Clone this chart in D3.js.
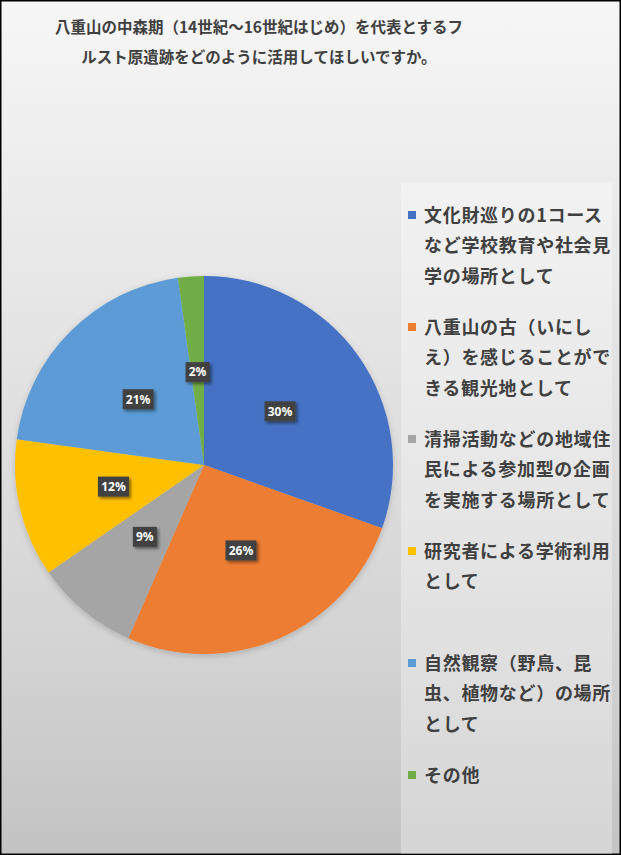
<!DOCTYPE html>
<html>
<head>
<meta charset="utf-8">
<script src="https://cdn.jsdelivr.net/npm/d3@7"></script>
<style>
  html, body { margin: 0; padding: 0; background: #fff; }
  svg { display: block; font-family: "Noto Sans CJK JP", "Noto Sans", sans-serif; }
</style>
</head>
<body>
<div id="chart"></div>
<script>
var svgWidth = 621;
var svgHeight = 855;

// chart data
var titleLines = [
    "八重山の中森期（14世紀〜16世紀はじめ）を代表とするフ",
    "ルスト原遺跡をどのように活用してほしいですか。"
];
var categories = [
    "文化財巡りの1コース\nなど学校教育や社会見\n学の場所として",
    "八重山の古（いにし\nえ）を感じることがで\nきる観光地として",
    "清掃活動などの地域住\n民による参加型の企画\nを実施する場所として",
    "研究者による学術利用\nとして",
    "自然観察（野鳥、昆\n虫、植物など）の場所\nとして",
    "その他"
];
var shares = [30.4, 26.1, 8.8, 11.8, 20.6, 2.2];
var colors = ["#4472C4", "#ED7D31", "#A5A5A5", "#FFC000", "#5B9BD5", "#70AD47"];

var pieCenter = { x: 204, y: 465 };
var radius = 189;

var svg = d3.select("#chart")
    .append("svg")
    .attr("width", svgWidth)
    .attr("height", svgHeight);

var defs = svg.append("defs");

// background gradient like the office chart area
var bg = defs.append("linearGradient")
    .attr("id", "bgGrad")
    .attr("x1", 0).attr("y1", 0)
    .attr("x2", 0).attr("y2", 1);
bg.append("stop").attr("offset", "0%").attr("stop-color", "#f6f6f6");
bg.append("stop").attr("offset", "75%").attr("stop-color", "#d4d4d4");
bg.append("stop").attr("offset", "100%").attr("stop-color", "#c3c3c3");

// dotted texture for the data label boxes
var pat = defs.append("pattern")
    .attr("id", "dots")
    .attr("width", 3).attr("height", 3)
    .attr("patternUnits", "userSpaceOnUse");
pat.append("rect").attr("width", 3).attr("height", 3).attr("fill", "#3f3f3f");
pat.append("rect").attr("width", 1).attr("height", 1).attr("fill", "#4d4d4d");

var shadow = defs.append("filter")
    .attr("id", "lblShadow")
    .attr("x", "-30%").attr("y", "-30%")
    .attr("width", "170%").attr("height", "180%");
shadow.append("feDropShadow")
    .attr("dx", 2).attr("dy", 2)
    .attr("stdDeviation", 1.5)
    .attr("flood-color", "#000")
    .attr("flood-opacity", 0.45);

var pieShadow = defs.append("filter")
    .attr("id", "pieShadow")
    .attr("x", "-10%").attr("y", "-10%")
    .attr("width", "120%").attr("height", "120%");
pieShadow.append("feDropShadow")
    .attr("dx", 0).attr("dy", 2)
    .attr("stdDeviation", 3)
    .attr("flood-color", "#000")
    .attr("flood-opacity", 0.18);

// background + border
svg.append("rect")
    .attr("x", 0.75).attr("y", 0.75)
    .attr("width", svgWidth - 1.5)
    .attr("height", svgHeight - 1.5)
    .attr("fill", "url(#bgGrad)")
    .attr("stroke", "#000")
    .attr("stroke-width", 1.5);

// title
var title = svg.append("text")
    .attr("text-anchor", "middle")
    .attr("fill", "#404040")
    .attr("font-weight", "bold")
    .attr("font-size", "15.5px");
titleLines.forEach(function (line, i) {
    title.append("tspan")
        .attr("x", 259)
        .attr("y", 33 + i * 30)
        .text(line);
});

// pie
var pie = d3.pie().sort(null).value(d => d);
var arcs = pie(shares);
var total = d3.sum(shares);

var arc = d3.arc().innerRadius(0).outerRadius(radius);
var labelArc = d3.arc().innerRadius(0).outerRadius(radius * 0.985);

var pieGroup = svg.append("g")
    .attr("transform", `translate(${pieCenter.x}, ${pieCenter.y})`);

pieGroup.append("g")
    .attr("filter", "url(#pieShadow)")
    .selectAll("path")
    .data(arcs)
    .enter()
    .append("path")
    .attr("d", arc)
    .attr("fill", (d, i) => colors[i]);

// data labels
var labels = pieGroup.selectAll("g.lbl")
    .data(arcs)
    .enter()
    .append("g")
    .classed("lbl", true)
    .attr("transform", d => `translate(${labelArc.centroid(d)})`);

labels.each(function (d) {
    var g = d3.select(this);
    var txt = Math.round(d.value / total * 100) + "%";
    var w = txt.length > 2 ? 31 : 24;
    g.append("rect")
        .attr("x", -w / 2).attr("y", -10)
        .attr("width", w).attr("height", 20)
        .attr("fill", "url(#dots)")
        .attr("filter", "url(#lblShadow)");
    g.append("text")
        .attr("text-anchor", "middle")
        .attr("dy", "0.36em")
        .attr("fill", "#fff")
        .attr("font-family", "'Noto Sans', 'DejaVu Sans', sans-serif")
        .attr("font-weight", "bold")
        .attr("font-size", "12px")
        .text(txt);
});

// legend panel
svg.append("rect")
    .attr("x", 401).attr("y", 183)
    .attr("width", 211).attr("height", svgHeight - 184)
    .attr("fill", "#fff")
    .attr("fill-opacity", 0.3);

var legendY = d3.scalePoint()
    .domain(d3.range(categories.length))
    .range([215, 775]);

var legend = svg.selectAll("g.legend")
    .data(categories)
    .enter()
    .append("g")
    .classed("legend", true)
    .attr("transform", (d, i) => `translate(408, ${legendY(i)})`);

legend.append("rect")
    .attr("x", 0).attr("y", -4)
    .attr("width", 8).attr("height", 8)
    .attr("fill", (d, i) => colors[i]);

legend.each(function (d) {
    var t = d3.select(this).append("text")
        .attr("fill", "#404040")
        .attr("font-weight", "bold")
        .attr("font-size", "18px")
        .attr("letter-spacing", "0.7px");
    d.split("\n").forEach(function (line, j) {
        t.append("tspan")
            .attr("x", 16)
            .attr("y", 6.5 + j * 30.5)
            .text(line);
    });
});
</script>
</body>
</html>
